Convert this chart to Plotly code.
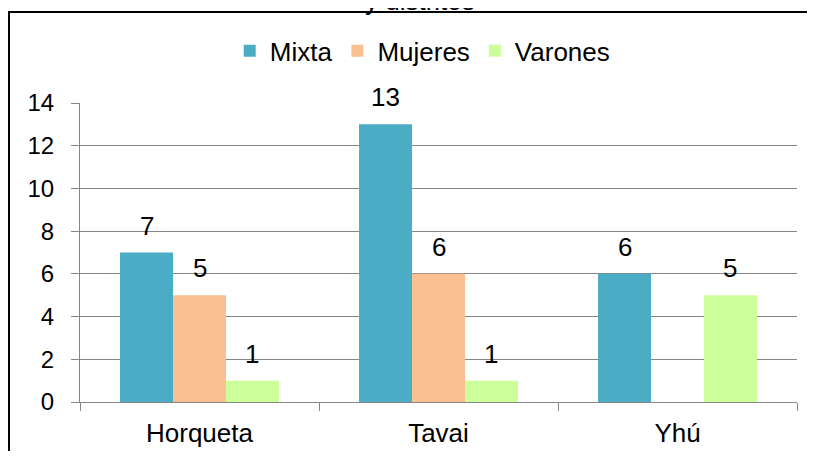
import plotly.graph_objects as go

# data
distritos = ["Horqueta", "Tavai", "Yhú"]
mixta = [7, 13, 6]
mujeres = [5, 6, None]
varones = [1, 1, 5]

series = [("Mixta", mixta, "#4BACC6"),
          ("Mujeres", mujeres, "#FAC090"),
          ("Varones", varones, "#CCFF99")]

FONT = "Liberation Sans, Arial, sans-serif"
BARGAP = 0.335
bar_w = (1 - BARGAP) / len(series)

fig = go.Figure()
for name, vals, color in series:
    fig.add_trace(go.Bar(name=name, x=distritos, y=vals, marker_color=color,
                         marker_line_width=0))

# value labels above each bar
for i, (name, vals, color) in enumerate(series):
    for j, v in enumerate(vals):
        if v is None:
            continue
        fig.add_annotation(x=j + (i - 1) * bar_w, y=v, text=str(v),
                           showarrow=False, yanchor="bottom", yshift=10,
                           font=dict(size=26, color="#000000", family=FONT))

# title, cut off at the top as in the original
fig.add_annotation(xref="paper", yref="paper", x=0.474, y=1.283,
                   text="y distritos", showarrow=False, yanchor="bottom",
                   font=dict(size=26, color="#000000", family=FONT))

# chart border
fig.add_shape(type="rect", xref="paper", yref="paper",
              x0=-0.099, x1=1.1, y0=-0.3, y1=1.304,
              line=dict(color="#000000", width=2))

# page body has an 8px margin, so the figure is sized to fit the window
fig.update_layout(
    width=799, height=443,
    margin=dict(l=72, r=10, t=95, b=49),
    paper_bgcolor="white", plot_bgcolor="white",
    barmode="group", bargap=BARGAP, bargroupgap=0,
    font=dict(family=FONT, size=24, color="#000000"),
    showlegend=True,
    legend=dict(orientation="h", x=0.478, xanchor="center", y=1.174,
                yanchor="middle", font=dict(size=26), itemwidth=30,
                traceorder="normal"),
)
fig.update_xaxes(type="category", range=[-0.5, 2.5], tickson="boundaries",
                 ticks="outside", ticklen=8, tickcolor="#868686",
                 showline=True, linecolor="#868686", linewidth=1,
                 showgrid=False, tickfont=dict(size=26), ticklabelstandoff=8,
                 automargin=False)
fig.update_yaxes(range=[0, 14], dtick=2, ticks="outside", ticklen=8,
                 tickcolor="#868686", showline=True, linecolor="#868686",
                 linewidth=1, gridcolor="#868686", gridwidth=1,
                 zeroline=False, tickfont=dict(size=24), ticklabelstandoff=12,
                 automargin=False)

fig.write_html("out.html")
